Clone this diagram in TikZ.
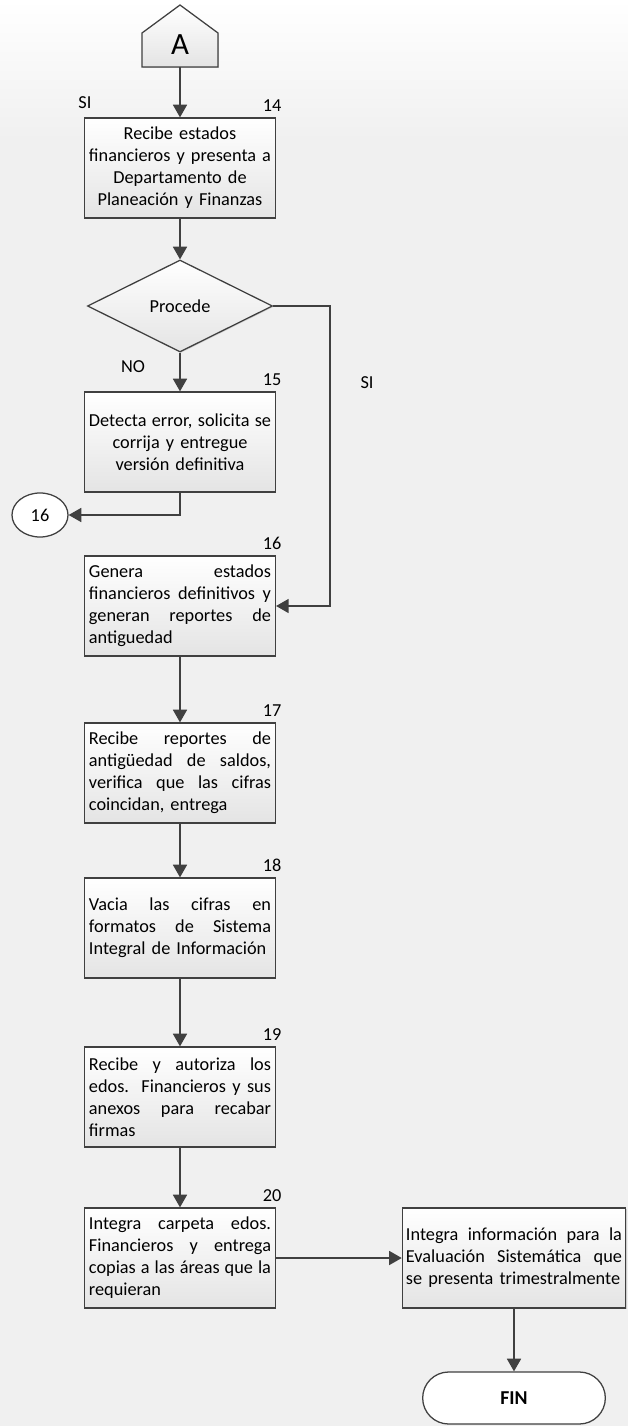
\documentclass[tikz,border=0pt]{standalone}
\usepackage{fontspec}
\setmainfont{Carlito}
\usepackage{tikz}
\usetikzlibrary{arrows.meta, shapes.geometric, shapes.misc, shadows, positioning}

\definecolor{fondo}{RGB}{240,240,240}
\definecolor{linea}{RGB}{64,64,64}
\definecolor{caja}{RGB}{228,228,228}

\newcommand{\jus}[1]{\makebox[\hsize][s]{\spaceskip=0pt\xspaceskip=0pt #1}}

\tikzset{
	paso/.style={draw=linea, line width=0.9pt, top color=white, bottom color=caja,
		text width=4.55cm, inner xsep=0.11cm, minimum height=2.5cm,
		drop shadow={shadow xshift=0.7pt, shadow yshift=-0.7pt, opacity=0.3}},
	flecha/.style={draw=linea, line width=1.1pt, -{Triangle[width=10pt, length=9pt]}},
	num/.style={inner sep=0pt}
}

\begin{document}
\begin{tikzpicture}[x=0.025cm, y=-0.025cm, font=\fontsize{13}{15.6}\selectfont]
			\def\xc{180};

			\shade[top color=white, bottom color=fondo] (0,0) rectangle (628,140);
			\fill[fondo] (0,140) rectangle (628,1426);
			\useasboundingbox (0,0) rectangle (628,1426);

			% conector A
			\draw[paso] (142,67) -- (142,33) -- (\xc,5) -- (218,33) -- (218,67) -- cycle;
			\node[font=\fontsize{22}{26}\selectfont] (A) at (\xc,45) {A};
			\coordinate (Abajo) at (\xc,67);

			\node[paso, align=center] (b14) at (\xc,168) {Recibe estados\\financieros y presenta a\\Departamento de\\Planeación y Finanzas};
			\node[diamond, draw=linea, line width=0.9pt, top color=white, bottom color=caja,
				minimum width=4.625cm, minimum height=2.3cm, inner sep=0pt,
				drop shadow={shadow xshift=0.7pt, shadow yshift=-0.7pt, opacity=0.3}] (dec) at (\xc,306) {Procede};
			\node[paso, align=center] (b15) at (\xc,442) {\jus{Detecta error, solicita se}\\corrija y entregue\\versión definitiva};
			\node[ellipse, draw=linea, line width=0.9pt, fill=white, minimum width=1.4cm, minimum height=1.1cm, inner sep=0pt] (c16) at (40,515) {16};
			\node[paso, align=left] (b16) at (\xc,606) {\jus{Genera estados}\\\jus{financieros definitivos y}\\\jus{generan reportes de}\\antiguedad};
			\node[paso, align=left] (b17) at (\xc,773) {\jus{Recibe reportes de}\\\jus{antigüedad de saldos,}\\\jus{verifica que las cifras}\\coincidan, entrega};
			\node[paso, align=left] (b18) at (\xc,928) {\jus{Vacia las cifras en}\\\jus{formatos de Sistema}\\Integral de Información};
			\node[paso, align=left] (b19) at (\xc,1097) {\jus{Recibe y autoriza los}\\\jus{edos. Financieros y sus}\\\jus{anexos para recabar}\\firmas};
			\node[paso, align=left] (b20) at (\xc,1258) {\jus{Integra carpeta edos.}\\\jus{Financieros y entrega}\\\jus{copias a las áreas que la}\\requieran};
			\node[paso, align=left, text width=5.4cm, inner xsep=0.09cm] (eval) at (514,1258) {\jus{Integra información para la}\\\jus{Evaluación Sistemática que}\\se presenta trimestralmente};
			\node[rounded rectangle, draw=linea, line width=0.9pt, fill=white, minimum width=4.8cm, minimum height=1.3cm,
				font=\fontsize{14}{16}\selectfont\bfseries] (fin) at (514,1398) {FIN};

			\foreach \n in {14,...,20}
				\node[num, above=0.14cm] at ([xshift=-0.1cm]b\n.north east) {\n};

			\node (si1) at (85,103) {SI};
			\node (no) at (133,367) {NO};
			\node (si2) at (367,383) {SI};
			\coordinate (vuelta) at (330,306);

			\draw[flecha] (Abajo) -- (b14);
			\draw[flecha] (b14) -- (dec);
			\draw[flecha] (dec) -- (b15);
			\draw[flecha] (dec.east) -- (vuelta) |- (b16.east);
			\draw[flecha] (b15.south) |- (c16.east);
			\draw[flecha] (b16) -- (b17);
			\draw[flecha] (b17) -- (b18);
			\draw[flecha] (b18) -- (b19);
			\draw[flecha] (b19) -- (b20);
			\draw[flecha] (b20) -- (eval);
			\draw[flecha] (eval) -- (fin);
		\end{tikzpicture}
\end{document}
